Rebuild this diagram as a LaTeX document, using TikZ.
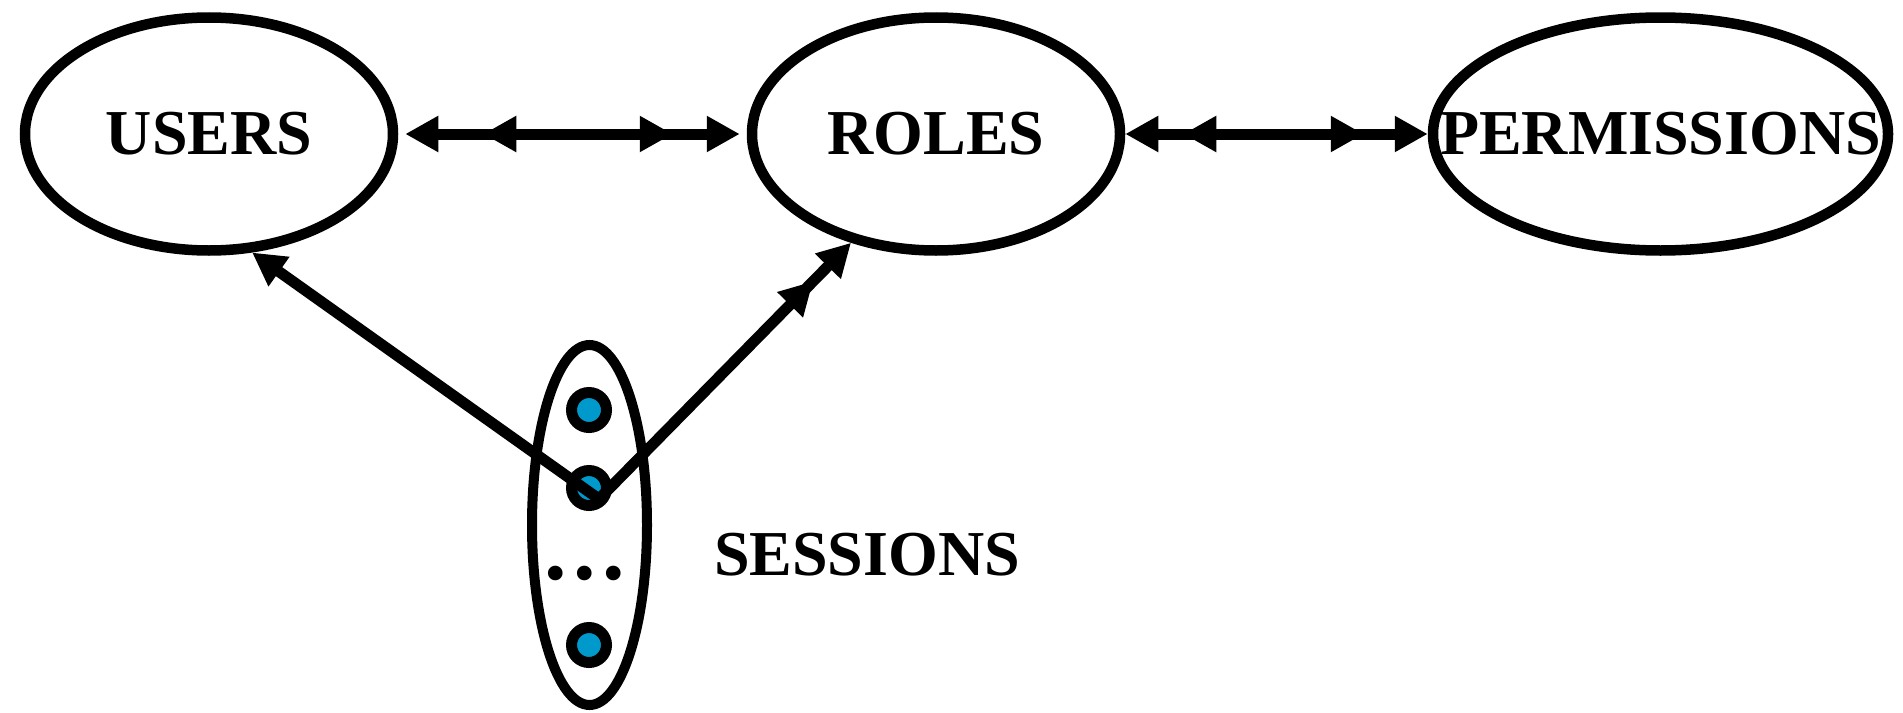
\documentclass[tikz,border=0pt]{standalone}
\usepackage{fontspec}
\setmainfont{Liberation Serif}
\usetikzlibrary{arrows.meta,calc,decorations.markings,shapes.geometric}
\definecolor{sessblue}{RGB}{0,153,204}
\tikzset{ e/.style = { ellipse % entity set
        , line width = 10.5pt
        , draw
        , inner sep = 0pt
        , minimum height = 233pt
        }
        , s/.style = { circle % session
        , line width = 11pt
        , draw
        , fill = sessblue
        , inner sep = 0pt
        , minimum size = 35pt
        }
        , t/.style = { rectangle % name
        , inner sep = 0pt
        , font = \fontsize{64}{70}\selectfont\bfseries
        }
        }

\begin{document}
\begin{tikzpicture}[x=1pt, y=-1pt,
        >={Triangle[length=33pt,width=34pt]},
        edge_style/.style={draw=black, line width=11pt}]
        \useasboundingbox (0,0) rectangle (1903,712);

        \node [e, minimum width=368pt, label={[t]center:USERS}] (users) at (209,134) {};
        \node [e, minimum width=368pt, label={[t]center:ROLES}] (roles) at (936,134) {};
        \node [e, minimum width=455pt, label={[t]center:PERMISSIONS}] (perms) at (1660.5,134) {};

        \node [ellipse, draw, line width=10pt, minimum width=115pt, minimum height=360pt] (sessset) at (589.5,525) {};
        \node [s] (s1) at (589,410) {};
        \node [s] (s2) at (589,488) {};
        \node [s] (s3) at (589,645) {};
        \node [inner sep=0pt, anchor=base, font=\fontsize{90}{90}\selectfont\bfseries] (more) at (585,579) {.\kern6.5pt.\kern6.5pt.};
        \node [t] (sesslabel) at (867,555) {SESSIONS};
        \coordinate (sv) at ($(s2)+(10,11)$);

        \draw [edge_style, <->, shorten <=7pt, shorten >=7pt, postaction={decorate},
            decoration={markings, mark=at position 85pt with {\arrowreversed{>}},
            mark=at position -74pt with {\arrow{>}}}] (users) -- (roles);
        \draw [edge_style, <->, postaction={decorate},
            decoration={markings, mark=at position 58pt with {\arrowreversed{>}},
            mark=at position -64pt with {\arrow{>}}}] (roles) -- (perms);
        \draw [edge_style, ->] (sv) -- (users.290);
        \draw [edge_style, ->, postaction={decorate},
            decoration={markings, mark=at position -54pt with {\arrow{>}}}] (sv) -- (roles.232);

        \end{tikzpicture}
\end{document}
